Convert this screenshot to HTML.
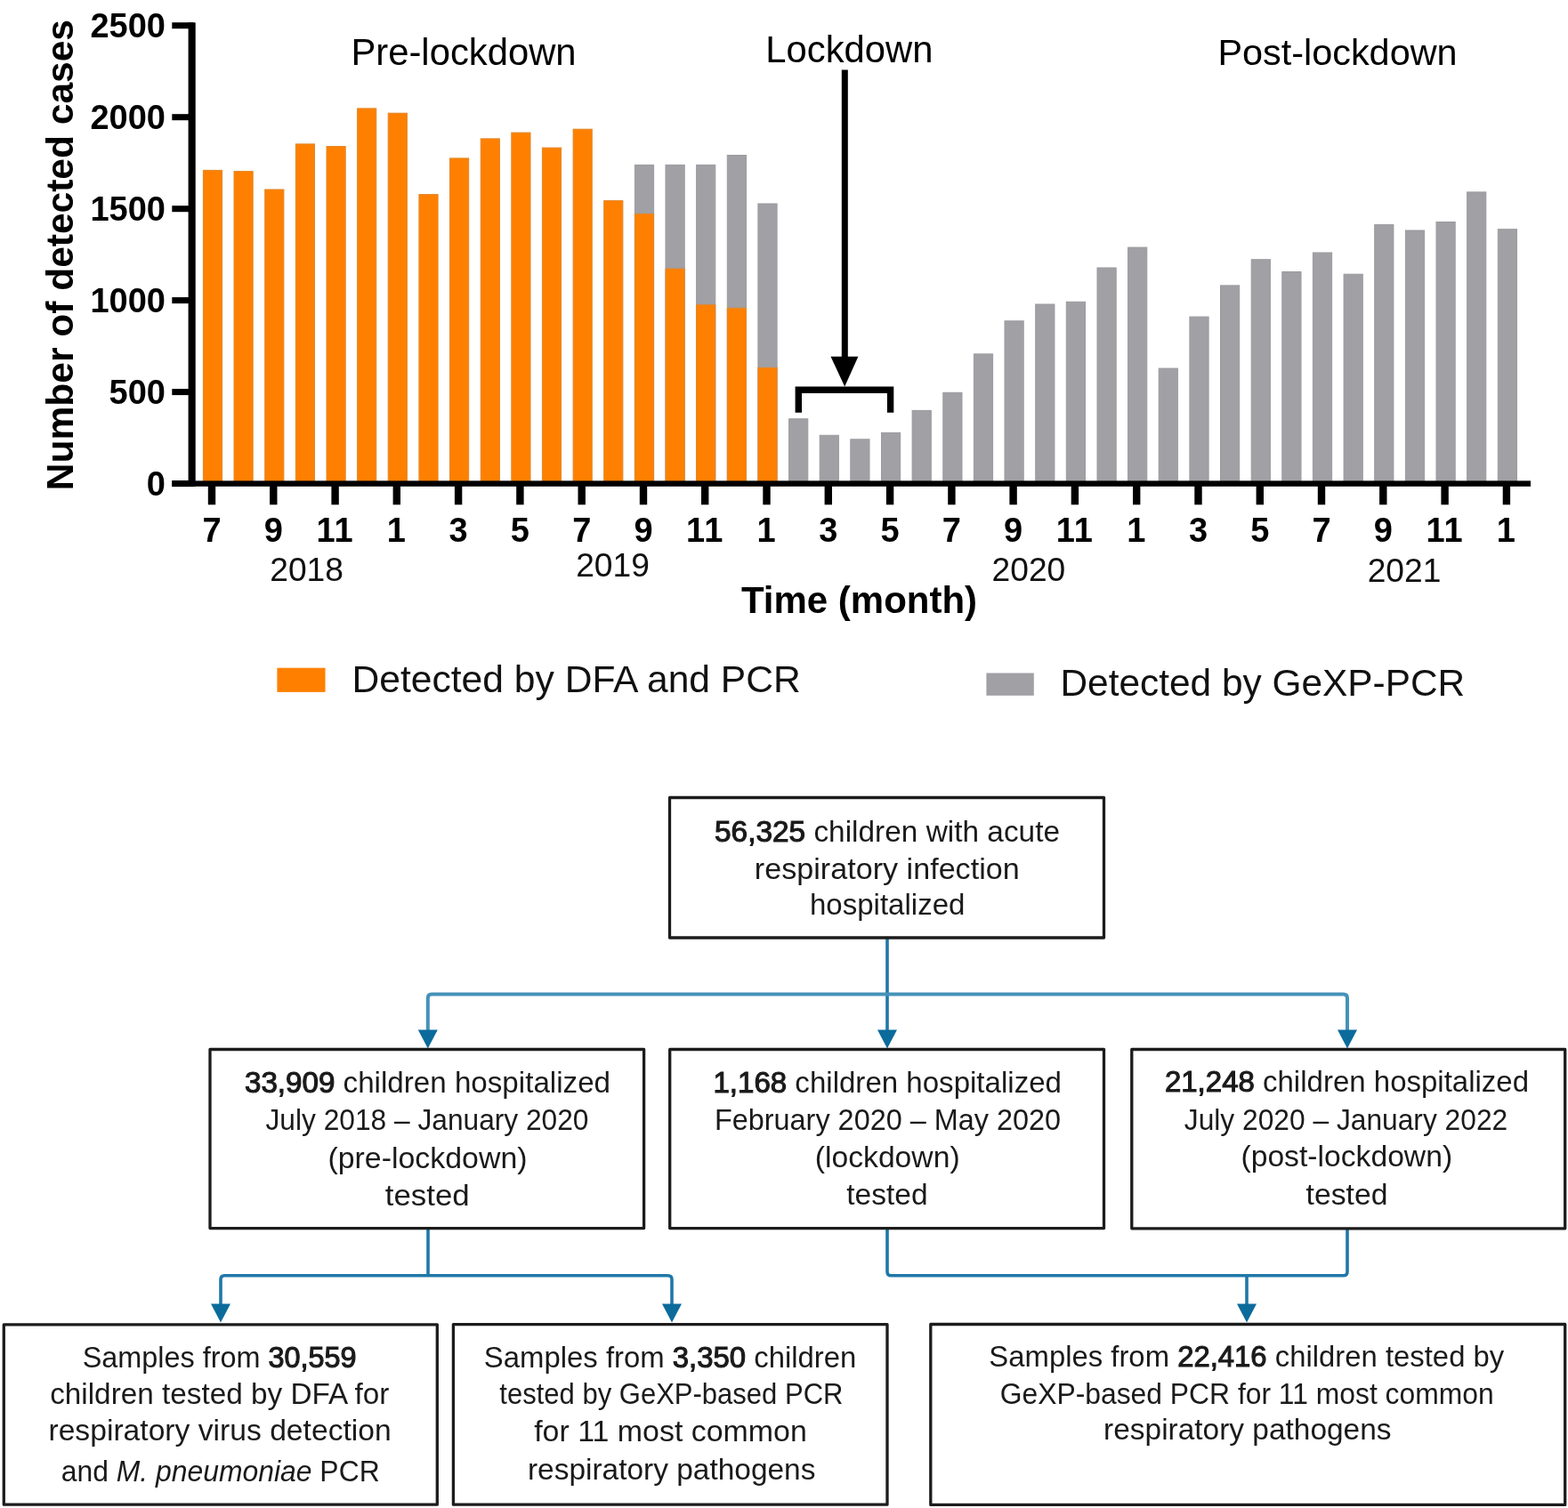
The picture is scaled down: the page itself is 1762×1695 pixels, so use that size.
<!DOCTYPE html>
<html><head><meta charset="utf-8"><title>Detected cases and study flowchart</title>
<style>
html,body{margin:0;padding:0;background:#fff;}
body{width:1762px;height:1695px;overflow:hidden;}
svg{display:block;}
text{font-family:"Liberation Sans",Arial,sans-serif;fill:#000;}
.tb{font-weight:bold;font-size:38px;}
.yr{font-size:37.2px;fill:#111;}
.lab{font-size:41.8px;}
.ax{font-weight:bold;font-size:42px;}
.axy{font-weight:bold;font-size:42.5px;}
.lg{font-size:42.6px;fill:#111;}
.fc{font-size:33px;fill:#1a1a1a;}
.one{letter-spacing:1px;}
.b{font-weight:normal;stroke:#1a1a1a;stroke-width:1.1px;paint-order:stroke;}
.i{font-style:italic;}
</style></head>
<body>
<svg width="1762" height="1695" viewBox="0 0 1762 1695">
<rect width="1762" height="1695" fill="#fff"/>
<g id="bars">
<rect x="228.4" y="191.4" width="21.2" height="353.1" fill="#ff8000" stroke="#e2872c" stroke-width="1"/>
<rect x="263.0" y="192.6" width="21.2" height="351.9" fill="#ff8000" stroke="#e2872c" stroke-width="1"/>
<rect x="297.7" y="213.0" width="21.2" height="331.5" fill="#ff8000" stroke="#e2872c" stroke-width="1"/>
<rect x="332.3" y="161.9" width="21.2" height="382.6" fill="#ff8000" stroke="#e2872c" stroke-width="1"/>
<rect x="367.0" y="164.6" width="21.2" height="379.9" fill="#ff8000" stroke="#e2872c" stroke-width="1"/>
<rect x="401.6" y="121.9" width="21.2" height="422.6" fill="#ff8000" stroke="#e2872c" stroke-width="1"/>
<rect x="436.2" y="127.2" width="21.2" height="417.3" fill="#ff8000" stroke="#e2872c" stroke-width="1"/>
<rect x="470.9" y="218.6" width="21.2" height="325.9" fill="#ff8000" stroke="#e2872c" stroke-width="1"/>
<rect x="505.5" y="177.9" width="21.2" height="366.6" fill="#ff8000" stroke="#e2872c" stroke-width="1"/>
<rect x="540.2" y="155.9" width="21.2" height="388.6" fill="#ff8000" stroke="#e2872c" stroke-width="1"/>
<rect x="574.8" y="149.1" width="21.2" height="395.4" fill="#ff8000" stroke="#e2872c" stroke-width="1"/>
<rect x="609.4" y="166.1" width="21.2" height="378.4" fill="#ff8000" stroke="#e2872c" stroke-width="1"/>
<rect x="644.1" y="145.2" width="21.2" height="399.3" fill="#ff8000" stroke="#e2872c" stroke-width="1"/>
<rect x="678.7" y="225.6" width="21.2" height="318.9" fill="#ff8000" stroke="#e2872c" stroke-width="1"/>
<rect x="713.4" y="185.4" width="21.2" height="359.1" fill="#a0a0a5" stroke="#9a9a9f" stroke-width="1"/>
<rect x="713.4" y="240.4" width="21.2" height="304.1" fill="#ff8000" stroke="#e2872c" stroke-width="1"/>
<rect x="748.0" y="185.4" width="21.2" height="359.1" fill="#a0a0a5" stroke="#9a9a9f" stroke-width="1"/>
<rect x="748.0" y="302.1" width="21.2" height="242.4" fill="#ff8000" stroke="#e2872c" stroke-width="1"/>
<rect x="782.6" y="185.4" width="21.2" height="359.1" fill="#a0a0a5" stroke="#9a9a9f" stroke-width="1"/>
<rect x="782.6" y="342.7" width="21.2" height="201.8" fill="#ff8000" stroke="#e2872c" stroke-width="1"/>
<rect x="817.3" y="174.5" width="21.2" height="370.0" fill="#a0a0a5" stroke="#9a9a9f" stroke-width="1"/>
<rect x="817.3" y="346.3" width="21.2" height="198.2" fill="#ff8000" stroke="#e2872c" stroke-width="1"/>
<rect x="851.9" y="229.0" width="21.2" height="315.5" fill="#a0a0a5" stroke="#9a9a9f" stroke-width="1"/>
<rect x="851.9" y="413.3" width="21.2" height="131.2" fill="#ff8000" stroke="#e2872c" stroke-width="1"/>
<rect x="886.6" y="470.8" width="21.2" height="73.7" fill="#a0a0a5" stroke="#9a9a9f" stroke-width="1"/>
<rect x="921.2" y="489.3" width="21.2" height="55.2" fill="#a0a0a5" stroke="#9a9a9f" stroke-width="1"/>
<rect x="955.8" y="493.8" width="21.2" height="50.7" fill="#a0a0a5" stroke="#9a9a9f" stroke-width="1"/>
<rect x="990.5" y="486.4" width="21.2" height="58.1" fill="#a0a0a5" stroke="#9a9a9f" stroke-width="1"/>
<rect x="1025.1" y="461.4" width="21.2" height="83.1" fill="#a0a0a5" stroke="#9a9a9f" stroke-width="1"/>
<rect x="1059.8" y="441.3" width="21.2" height="103.2" fill="#a0a0a5" stroke="#9a9a9f" stroke-width="1"/>
<rect x="1094.4" y="397.9" width="21.2" height="146.6" fill="#a0a0a5" stroke="#9a9a9f" stroke-width="1"/>
<rect x="1129.0" y="360.8" width="21.2" height="183.7" fill="#a0a0a5" stroke="#9a9a9f" stroke-width="1"/>
<rect x="1163.7" y="342.0" width="21.2" height="202.5" fill="#a0a0a5" stroke="#9a9a9f" stroke-width="1"/>
<rect x="1198.3" y="339.3" width="21.2" height="205.2" fill="#a0a0a5" stroke="#9a9a9f" stroke-width="1"/>
<rect x="1233.0" y="301.0" width="21.2" height="243.5" fill="#a0a0a5" stroke="#9a9a9f" stroke-width="1"/>
<rect x="1267.6" y="278.1" width="21.2" height="266.4" fill="#a0a0a5" stroke="#9a9a9f" stroke-width="1"/>
<rect x="1302.2" y="414.1" width="21.2" height="130.4" fill="#a0a0a5" stroke="#9a9a9f" stroke-width="1"/>
<rect x="1336.9" y="356.1" width="21.2" height="188.4" fill="#a0a0a5" stroke="#9a9a9f" stroke-width="1"/>
<rect x="1371.5" y="320.9" width="21.2" height="223.6" fill="#a0a0a5" stroke="#9a9a9f" stroke-width="1"/>
<rect x="1406.2" y="291.7" width="21.2" height="252.8" fill="#a0a0a5" stroke="#9a9a9f" stroke-width="1"/>
<rect x="1440.8" y="305.5" width="21.2" height="239.0" fill="#a0a0a5" stroke="#9a9a9f" stroke-width="1"/>
<rect x="1475.4" y="284.0" width="21.2" height="260.5" fill="#a0a0a5" stroke="#9a9a9f" stroke-width="1"/>
<rect x="1510.1" y="308.2" width="21.2" height="236.3" fill="#a0a0a5" stroke="#9a9a9f" stroke-width="1"/>
<rect x="1544.7" y="252.6" width="21.2" height="291.9" fill="#a0a0a5" stroke="#9a9a9f" stroke-width="1"/>
<rect x="1579.4" y="259.0" width="21.2" height="285.5" fill="#a0a0a5" stroke="#9a9a9f" stroke-width="1"/>
<rect x="1614.0" y="249.5" width="21.2" height="295.0" fill="#a0a0a5" stroke="#9a9a9f" stroke-width="1"/>
<rect x="1648.6" y="215.9" width="21.2" height="328.6" fill="#a0a0a5" stroke="#9a9a9f" stroke-width="1"/>
<rect x="1683.3" y="257.7" width="21.2" height="286.8" fill="#a0a0a5" stroke="#9a9a9f" stroke-width="1"/>
<rect x="193.3" y="540.1" width="24" height="7" fill="#000"/>
<text x="186" y="556.9" text-anchor="end" class="tb">0</text>
<rect x="193.3" y="437.1" width="24" height="7" fill="#000"/>
<text x="186" y="453.9" text-anchor="end" class="tb">500</text>
<rect x="193.3" y="334.1" width="24" height="7" fill="#000"/>
<text x="186" y="350.9" text-anchor="end" class="tb">1000</text>
<rect x="193.3" y="231.2" width="24" height="7" fill="#000"/>
<text x="186" y="248.0" text-anchor="end" class="tb">1500</text>
<rect x="193.3" y="128.2" width="24" height="7" fill="#000"/>
<text x="186" y="145.0" text-anchor="end" class="tb">2000</text>
<rect x="193.3" y="25.2" width="24" height="7" fill="#000"/>
<text x="186" y="42.0" text-anchor="end" class="tb">2500</text>
<rect x="233.8" y="544" width="8.4" height="23.3" fill="#000"/>
<text x="238.0" y="608.6" text-anchor="middle" class="tb">7</text>
<rect x="303.1" y="544" width="8.4" height="23.3" fill="#000"/>
<text x="307.3" y="608.6" text-anchor="middle" class="tb">9</text>
<rect x="372.4" y="544" width="8.4" height="23.3" fill="#000"/>
<text x="376.6" y="608.6" text-anchor="middle" class="tb one">11</text>
<rect x="441.6" y="544" width="8.4" height="23.3" fill="#000"/>
<text x="445.8" y="608.6" text-anchor="middle" class="tb one">1</text>
<rect x="510.9" y="544" width="8.4" height="23.3" fill="#000"/>
<text x="515.1" y="608.6" text-anchor="middle" class="tb">3</text>
<rect x="580.2" y="544" width="8.4" height="23.3" fill="#000"/>
<text x="584.4" y="608.6" text-anchor="middle" class="tb">5</text>
<rect x="649.5" y="544" width="8.4" height="23.3" fill="#000"/>
<text x="653.7" y="608.6" text-anchor="middle" class="tb">7</text>
<rect x="718.8" y="544" width="8.4" height="23.3" fill="#000"/>
<text x="723.0" y="608.6" text-anchor="middle" class="tb">9</text>
<rect x="788.0" y="544" width="8.4" height="23.3" fill="#000"/>
<text x="792.2" y="608.6" text-anchor="middle" class="tb one">11</text>
<rect x="857.3" y="544" width="8.4" height="23.3" fill="#000"/>
<text x="861.5" y="608.6" text-anchor="middle" class="tb one">1</text>
<rect x="926.6" y="544" width="8.4" height="23.3" fill="#000"/>
<text x="930.8" y="608.6" text-anchor="middle" class="tb">3</text>
<rect x="995.9" y="544" width="8.4" height="23.3" fill="#000"/>
<text x="1000.1" y="608.6" text-anchor="middle" class="tb">5</text>
<rect x="1065.2" y="544" width="8.4" height="23.3" fill="#000"/>
<text x="1069.4" y="608.6" text-anchor="middle" class="tb">7</text>
<rect x="1134.4" y="544" width="8.4" height="23.3" fill="#000"/>
<text x="1138.6" y="608.6" text-anchor="middle" class="tb">9</text>
<rect x="1203.7" y="544" width="8.4" height="23.3" fill="#000"/>
<text x="1207.9" y="608.6" text-anchor="middle" class="tb one">11</text>
<rect x="1273.0" y="544" width="8.4" height="23.3" fill="#000"/>
<text x="1277.2" y="608.6" text-anchor="middle" class="tb one">1</text>
<rect x="1342.3" y="544" width="8.4" height="23.3" fill="#000"/>
<text x="1346.5" y="608.6" text-anchor="middle" class="tb">3</text>
<rect x="1411.6" y="544" width="8.4" height="23.3" fill="#000"/>
<text x="1415.8" y="608.6" text-anchor="middle" class="tb">5</text>
<rect x="1480.8" y="544" width="8.4" height="23.3" fill="#000"/>
<text x="1485.0" y="608.6" text-anchor="middle" class="tb">7</text>
<rect x="1550.1" y="544" width="8.4" height="23.3" fill="#000"/>
<text x="1554.3" y="608.6" text-anchor="middle" class="tb">9</text>
<rect x="1619.4" y="544" width="8.4" height="23.3" fill="#000"/>
<text x="1623.6" y="608.6" text-anchor="middle" class="tb one">11</text>
<rect x="1688.7" y="544" width="8.4" height="23.3" fill="#000"/>
<text x="1692.9" y="608.6" text-anchor="middle" class="tb one">1</text>
</g>
<rect x="211.6" y="25.3" width="8.1" height="521.5" fill="#000"/>
<rect x="193.3" y="540.4" width="1526.7" height="6.4" fill="#000"/>
<text class="axy" transform="translate(82 286.6) rotate(-90)" text-anchor="middle">Number of detected cases</text>
<text class="lab" x="521" y="73.2" text-anchor="middle">Pre-lockdown</text>
<text class="lab" x="954.4" y="70.3" text-anchor="middle">Lockdown</text>
<text class="lab" x="1503" y="73.4" text-anchor="middle" style="font-size:41.4px">Post-lockdown</text>
<rect x="945.8" y="78.5" width="7" height="325" fill="#000"/>
<path d="M933.5 400.7 L964.4 400.7 L949.2 434.5 Z" fill="#000"/>
<path d="M897.3 463.8 V438.3 H1000.6 V463.8" stroke="#000" stroke-width="7.4" fill="none"/>
<text class="yr" x="344.6" y="653.4" text-anchor="middle">2018</text>
<text class="yr" x="688.5" y="647.8" text-anchor="middle">2019</text>
<text class="yr" x="1155.9" y="652.9" text-anchor="middle">2020</text>
<text class="yr" x="1578" y="653.6" text-anchor="middle">2021</text>
<text class="ax" x="965.5" y="688.6" text-anchor="middle">Time (month)</text>
<rect x="311.4" y="750.7" width="54.1" height="27.2" fill="#ff8000"/>
<text class="lg" x="395.5" y="778">Detected by DFA and PCR</text>
<rect x="1108.4" y="756.5" width="53.4" height="25.3" fill="#a0a0a5"/>
<text class="lg" x="1191.5" y="782.4" style="font-size:42.4px">Detected by GeXP-PCR</text>
<g id="flow">
<path d="M997 1055 V1160" stroke="#2078a8" stroke-width="3.6" fill="none"/>
<path d="M480.8 1160 V1122 Q480.8 1117.6 485 1117.6 H1509.5 Q1514 1117.6 1514 1122 V1160" stroke="#4592b8" stroke-width="4" fill="none"/>
<path d="M469.8 1157.5 L491.8 1157.5 L480.8 1178.5 Z" fill="#0b6b9b"/>
<path d="M986.0 1157.5 L1008.0 1157.5 L997.0 1178.5 Z" fill="#0b6b9b"/>
<path d="M1503.0 1157.5 L1525.0 1157.5 L1514.0 1178.5 Z" fill="#0b6b9b"/>
<path d="M481 1381 V1433.7" stroke="#2078a8" stroke-width="3.6" fill="none"/>
<path d="M248 1467 V1438 Q248 1433.7 252.3 1433.7 H750.5 Q755 1433.7 755 1438 V1467" stroke="#2078a8" stroke-width="3.6" fill="none"/>
<path d="M237.0 1465.5 L259.0 1465.5 L248.0 1486.5 Z" fill="#0b6b9b"/>
<path d="M744.0 1465.5 L766.0 1465.5 L755.0 1486.5 Z" fill="#0b6b9b"/>
<path d="M997 1381 V1429.4 Q997 1433.7 1001.3 1433.7 H1509.7 Q1514 1433.7 1514 1429.4 V1381" stroke="#2078a8" stroke-width="3.6" fill="none"/>
<path d="M1401 1433.7 V1467" stroke="#2078a8" stroke-width="3.6" fill="none"/>
<path d="M1390.0 1465.5 L1412.0 1465.5 L1401.0 1486.5 Z" fill="#0b6b9b"/>
<rect x="752.5" y="896.5" width="488.0" height="157.5" fill="none" stroke="#1c1c1c" stroke-width="3.3" stroke-linejoin="round"/>
<rect x="236" y="1179.5" width="487.6" height="201.0999999999999" fill="none" stroke="#1c1c1c" stroke-width="3.3" stroke-linejoin="round"/>
<rect x="752.7" y="1179.5" width="487.79999999999995" height="201.0999999999999" fill="none" stroke="#1c1c1c" stroke-width="3.3" stroke-linejoin="round"/>
<rect x="1271.8" y="1179.5" width="486.9000000000001" height="201.29999999999995" fill="none" stroke="#1c1c1c" stroke-width="3.3" stroke-linejoin="round"/>
<rect x="4.3" y="1488.8" width="487.0" height="202.4000000000001" fill="none" stroke="#1c1c1c" stroke-width="3.3" stroke-linejoin="round"/>
<rect x="509.4" y="1488.6" width="487.6" height="202.60000000000014" fill="none" stroke="#1c1c1c" stroke-width="3.3" stroke-linejoin="round"/>
<rect x="1045.8" y="1488.5" width="712.9000000000001" height="202.9000000000001" fill="none" stroke="#1c1c1c" stroke-width="3.3" stroke-linejoin="round"/>
<text x="997" y="946.2" text-anchor="middle" textLength="388.0" lengthAdjust="spacingAndGlyphs" class="fc"><tspan class="b">56,325</tspan> children with acute</text>
<text x="996.8" y="987.5" text-anchor="middle" textLength="297.9" lengthAdjust="spacingAndGlyphs" class="fc">respiratory infection</text>
<text x="997.2" y="1028" text-anchor="middle" textLength="174.6" lengthAdjust="spacingAndGlyphs" class="fc">hospitalized</text>
<text x="480.5" y="1227.8" text-anchor="middle" textLength="411.1" lengthAdjust="spacingAndGlyphs" class="fc"><tspan class="b">33,909</tspan> children hospitalized</text>
<text x="480" y="1270" text-anchor="middle" textLength="363.0" lengthAdjust="spacingAndGlyphs" class="fc">July 2018 – January 2020</text>
<text x="480.5" y="1313" text-anchor="middle" textLength="224.1" lengthAdjust="spacingAndGlyphs" class="fc">(pre-lockdown)</text>
<text x="480.2" y="1354.9" text-anchor="middle" textLength="94.9" lengthAdjust="spacingAndGlyphs" class="fc">tested</text>
<text x="997.2" y="1227.8" text-anchor="middle" textLength="391.5" lengthAdjust="spacingAndGlyphs" class="fc"><tspan class="b">1,168</tspan> children hospitalized</text>
<text x="997.5" y="1270" text-anchor="middle" textLength="389.1" lengthAdjust="spacingAndGlyphs" class="fc">February 2020 – May 2020</text>
<text x="997.2" y="1312" text-anchor="middle" textLength="162.9" lengthAdjust="spacingAndGlyphs" class="fc">(lockdown)</text>
<text x="996.9" y="1354.2" text-anchor="middle" textLength="91.3" lengthAdjust="spacingAndGlyphs" class="fc">tested</text>
<text x="1513.5" y="1226.8" text-anchor="middle" textLength="409.2" lengthAdjust="spacingAndGlyphs" class="fc"><tspan class="b">21,248</tspan> children hospitalized</text>
<text x="1512.5" y="1269.5" text-anchor="middle" textLength="363.4" lengthAdjust="spacingAndGlyphs" class="fc">July 2020 – January 2022</text>
<text x="1513.3" y="1310.8" text-anchor="middle" textLength="237.7" lengthAdjust="spacingAndGlyphs" class="fc">(post-lockdown)</text>
<text x="1513.5" y="1353.6" text-anchor="middle" textLength="91.8" lengthAdjust="spacingAndGlyphs" class="fc">tested</text>
<text x="246.6" y="1536.9" text-anchor="middle" textLength="307.9" lengthAdjust="spacingAndGlyphs" class="fc">Samples from <tspan class="b">30,559</tspan></text>
<text x="246.8" y="1577.9" text-anchor="middle" textLength="381.3" lengthAdjust="spacingAndGlyphs" class="fc">children tested by DFA for</text>
<text x="247.1" y="1619.2" text-anchor="middle" textLength="385.3" lengthAdjust="spacingAndGlyphs" class="fc">respiratory virus detection</text>
<text x="247.7" y="1664.5" text-anchor="middle" textLength="358.0" lengthAdjust="spacingAndGlyphs" class="fc">and <tspan class="i">M. pneumoniae</tspan> PCR</text>
<text x="753.1" y="1537" text-anchor="middle" textLength="418.6" lengthAdjust="spacingAndGlyphs" class="fc">Samples from <tspan class="b">3,350</tspan> children</text>
<text x="754.4" y="1577.5" text-anchor="middle" textLength="386.1" lengthAdjust="spacingAndGlyphs" class="fc">tested by GeXP-based PCR</text>
<text x="753.5" y="1619.7" text-anchor="middle" textLength="306.7" lengthAdjust="spacingAndGlyphs" class="fc">for 11 most common</text>
<text x="754.7" y="1663.3" text-anchor="middle" textLength="323.5" lengthAdjust="spacingAndGlyphs" class="fc">respiratory pathogens</text>
<text x="1400.8" y="1536.2" text-anchor="middle" textLength="578.9" lengthAdjust="spacingAndGlyphs" class="fc">Samples from <tspan class="b">22,416</tspan> children tested by</text>
<text x="1401.2" y="1577.7" text-anchor="middle" textLength="554.8" lengthAdjust="spacingAndGlyphs" class="fc">GeXP-based PCR for 11 most common</text>
<text x="1401.8" y="1618.4" text-anchor="middle" textLength="323.4" lengthAdjust="spacingAndGlyphs" class="fc">respiratory pathogens</text>
</g>
</svg>
</body></html>
